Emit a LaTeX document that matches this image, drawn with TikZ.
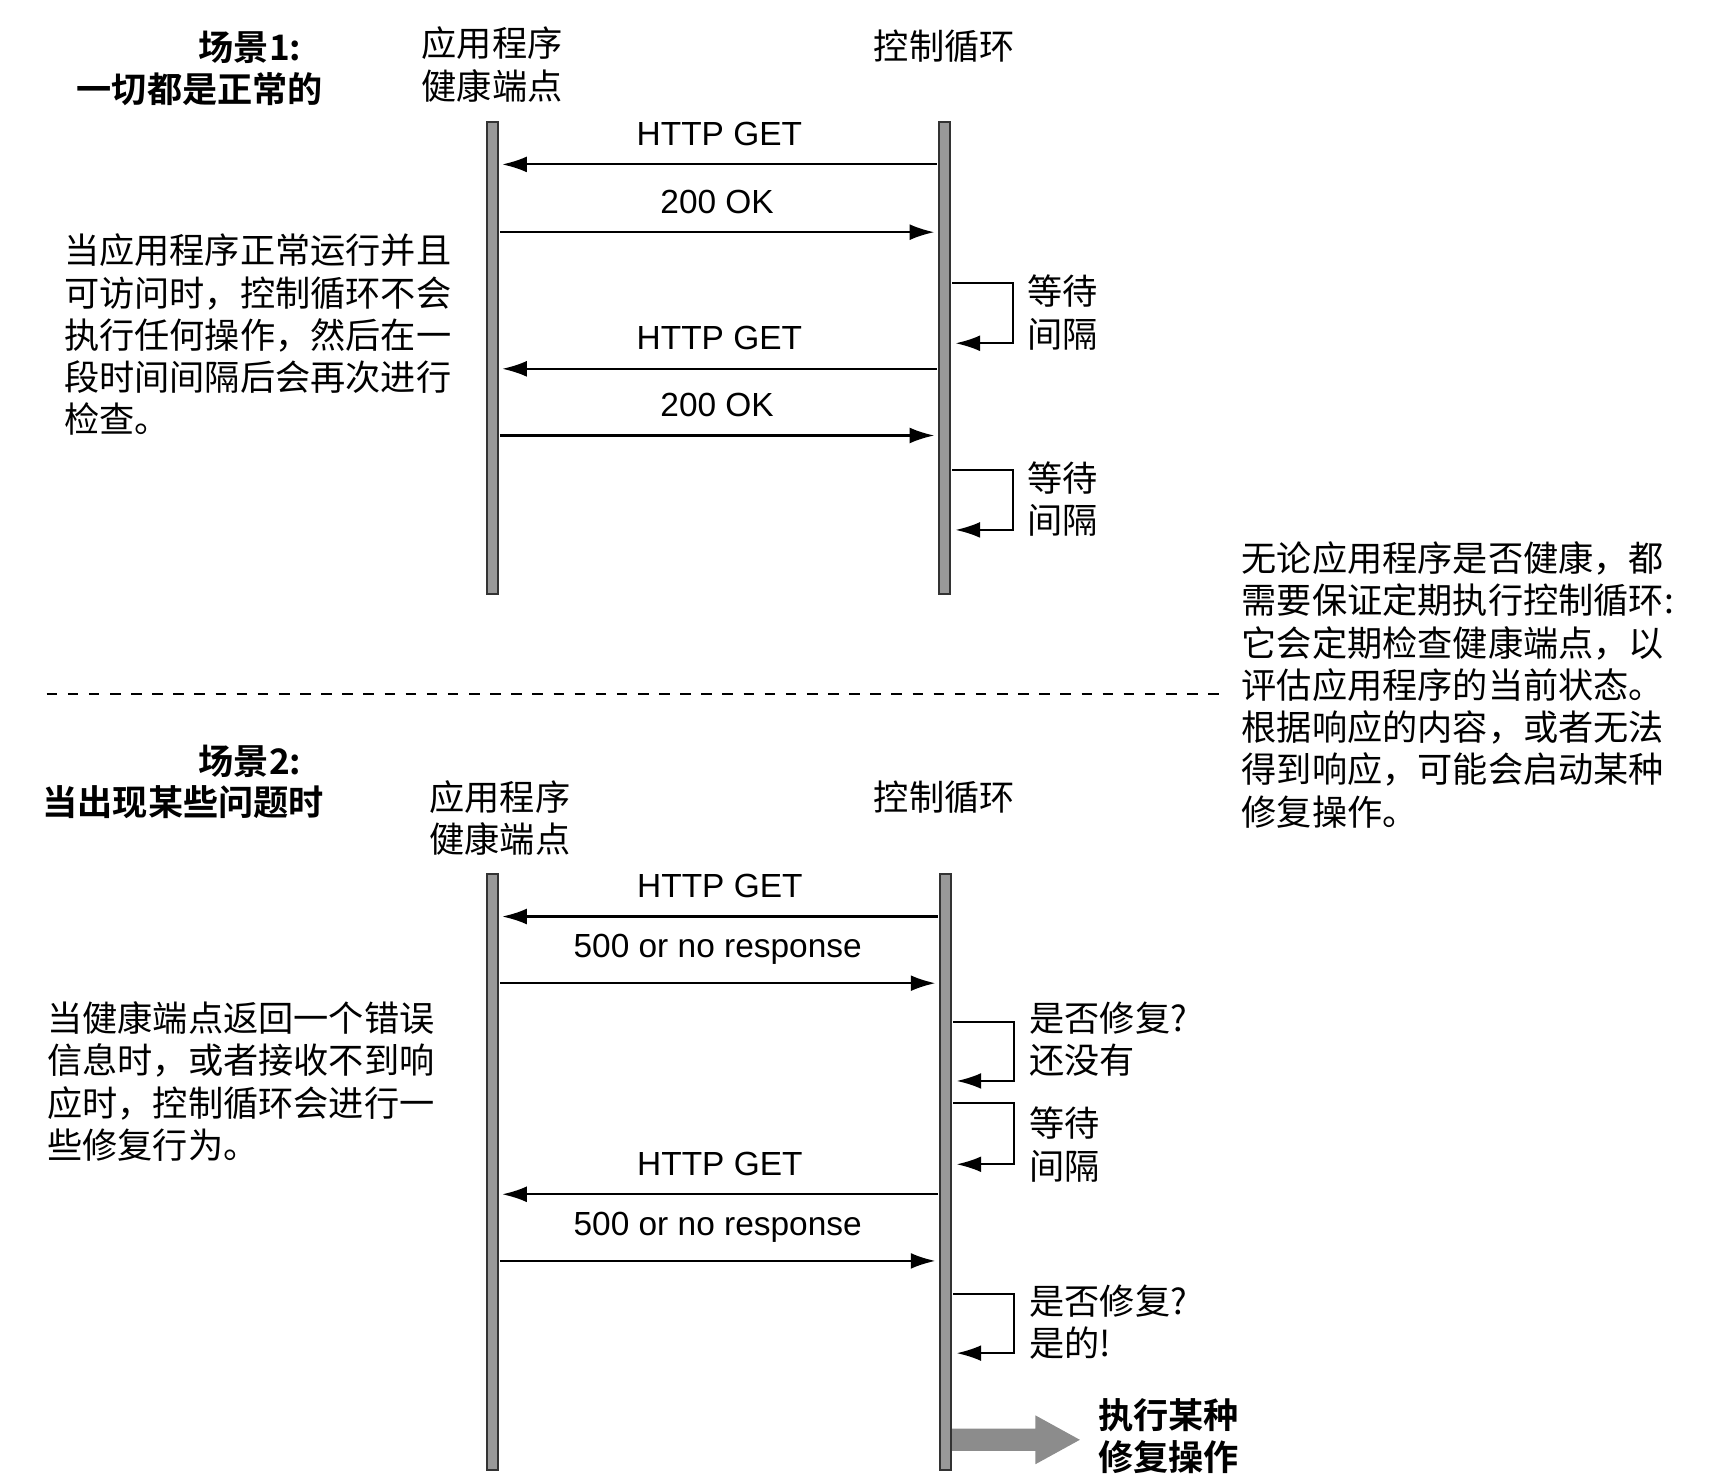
\documentclass[tikz,border=0pt]{standalone}
\usepackage{fontspec}
\setmainfont{Liberation Sans}
\newfontfamily\cjk{Noto Sans CJK SC}
\newfontfamily\cjkb{Noto Sans CJK SC Bold}
\usetikzlibrary{arrows.meta}
\begin{document}
\begin{tikzpicture}[x=0.0111cm,y=-0.0111cm]
	\tikzstyle{life}=[draw=black!80,fill=black!40,line width=0.6pt]
	\tikzstyle{msg}=[-{Latex[length=7pt,width=4.5pt]},line width=0.6pt]
	\tikzstyle{lbl}=[font=\fontsize{9.5}{11}\selectfont,inner sep=0]
	\tikzstyle{txt}=[font=\fontsize{10}{12}\cjk\selectfont,align=left,inner sep=0,anchor=north west]
	\tikzstyle{hd}=[font=\fontsize{10}{12}\cjkb\selectfont,align=center,inner sep=0]
	\useasboundingbox (0,0) rectangle (1550,1334);
	
	% scenario 1
	\node [hd] (s1a) at (225, 43) {场景1:};
	\node [hd] (s1b) at (180, 80) {一切都是正常的};
	\node [txt,align=center,anchor=center] (h1) at (443, 58) {应用程序\\健康端点};
	\node [txt,anchor=center] (c1) at (850, 42) {控制循环};
	\filldraw [life] (438,110) rectangle (448,535);
	\filldraw [life] (845,110) rectangle (855,535);
	\node [txt] (t1) at (57, 210) {当应用程序正常运行并且\\可访问时，控制循环不会\\执行任何操作，然后在一\\段时间间隔后会再次进行\\检查。};
	
	\coordinate (a1r) at (843,148); \coordinate (a1l) at (452,148);
	\coordinate (b1l) at (450,209); \coordinate (b1r) at (841,209);
	\coordinate (c1r) at (843,332); \coordinate (c1l) at (452,332);
	\coordinate (d1l) at (450,392); \coordinate (d1r) at (841,392);
	\draw [msg] (a1r) -- node[lbl,above=5pt]{HTTP GET} (a1l);
	\draw [msg] (b1l) -- node[lbl,above=5pt]{200 OK} (b1r);
	\draw [msg] (c1r) -- node[lbl,above=5pt]{HTTP GET} (c1l);
	\draw [msg] (d1l) -- node[lbl,above=5pt]{200 OK} (d1r);
	\draw [msg] (857,255) -| (912,309) -- (860,309);
	\draw [msg] (857,423) -| (912,477) -- (860,477);
	\node [txt] (w1) at (924, 247) {等待\\间隔};
	\node [txt] (w2) at (924, 415) {等待\\间隔};
	
	% note and divider
	\node [txt] (note) at (1117, 487) {无论应用程序是否健康，都\\需要保证定期执行控制循环:\\它会定期检查健康端点，以\\评估应用程序的当前状态。\\根据响应的内容，或者无法\\得到响应，可能会启动某种\\修复操作。};
	\draw [dashed,line width=0.5pt] (42,625) -- (1100,625);
	
	% scenario 2
	\node [hd] (s2a) at (225, 685) {场景2:};
	\node [hd] (s2b) at (165, 722) {当出现某些问题时};
	\node [txt,align=center,anchor=center] (h2) at (450, 736) {应用程序\\健康端点};
	\node [txt,anchor=center] (c2) at (850, 718) {控制循环};
	\filldraw [life] (438,787) rectangle (448,1323);
	\filldraw [life] (846,787) rectangle (856,1323);
	\node [txt] (t2) at (42, 901) {当健康端点返回一个错误\\信息时，或者接收不到响\\应时，控制循环会进行一\\些修复行为。};
	
	\coordinate (a2r) at (844,825); \coordinate (a2l) at (452,825);
	\coordinate (b2l) at (450,885); \coordinate (b2r) at (842,885);
	\coordinate (c2r) at (844,1075); \coordinate (c2l) at (452,1075);
	\coordinate (d2l) at (450,1135); \coordinate (d2r) at (842,1135);
	\draw [msg] (a2r) -- node[lbl,above=5pt]{HTTP GET} (a2l);
	\draw [msg] (b2l) -- node[lbl,above=5pt]{500 or no response} (b2r);
	\draw [msg] (c2r) -- node[lbl,above=5pt]{HTTP GET} (c2l);
	\draw [msg] (d2l) -- node[lbl,above=5pt]{500 or no response} (d2r);
	\draw [msg] (858,920) -| (913,973) -- (861,973);
	\draw [msg] (858,993) -| (913,1048) -- (861,1048);
	\draw [msg] (858,1165) -| (913,1218) -- (861,1218);
	\node [txt] (r1) at (926, 901) {是否修复?\\还没有};
	\node [txt] (w3) at (926, 996) {等待\\间隔};
	\node [txt] (r2) at (926, 1156) {是否修复?\\是的!};
	
	\fill [black!45] (857,1286) -- (932,1286) -- (932,1274) -- (972,1296) -- (932,1318) -- (932,1306) -- (857,1306) -- cycle;
	\node [hd,anchor=north west,align=left] (fix) at (988, 1258) {执行某种\\修复操作};
\end{tikzpicture}
\end{document}
